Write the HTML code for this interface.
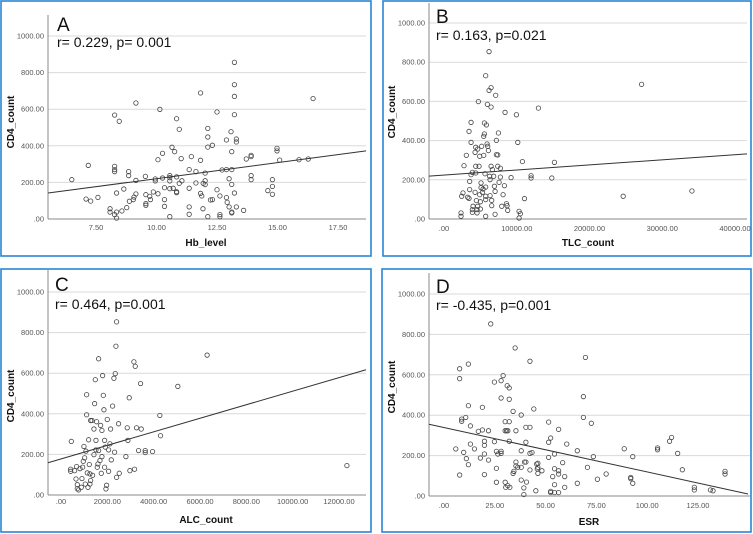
<!DOCTYPE html>
<html><head><meta charset="utf-8"><style>
html,body{margin:0;padding:0;background:#fff;}
svg{display:block;font-family:"Liberation Sans",sans-serif;}
.tk{font-size:7.5px;fill:#555;}
.gr{stroke:#d9d9d9;stroke-width:1;}
.ax{stroke:#888;stroke-width:1;}
.pt{fill:none;stroke:#444;stroke-width:0.8;}
.fit{stroke:#333;stroke-width:1;fill:none;}
.ttl{font-size:10px;font-weight:bold;fill:#111;}
.lab{font-size:19px;fill:#111;}
.st{font-size:14px;fill:#111;}
</style></head><body>
<svg id="chart" width="753" height="534" viewBox="0 0 753 534"></svg>
<script>
const yTicks=[0,200,400,600,800,1000];
const yTickLabels=[".00","200.00","400.00","600.00","800.00","1000.00"];

const hbTicks=[7.5,10,12.5,15,17.5];
const hbTickLabels=["7.50","10.00","12.50","15.00","17.50"];
const hbX=[6.5,7.18,7.09,7.28,7.58,8.08,8.08,8.27,8.46,8.27,8.27,8.27,8.35,8.27,8.35,8.35,8.57,8.65,8.77,8.85,8.85,8.88,9.04,9.07,9.15,9.15,9.15,9.54,9.56,9.56,9.56,9.72,9.75,9.87,9.95,9.95,10.06,10.06,10.14,10.25,10.25,10.33,10.33,10.33,10.55,10.55,10.55,10.55,10.55,10.64,10.75,10.69,10.83,10.83,10.83,10.83,10.94,10.94,11.02,11.05,11.35,11.35,11.35,11.35,11.44,11.63,11.63,11.82,11.82,11.82,11.87,11.92,11.93,12.01,12.01,12.01,12.12,12.12,12.12,12.12,12.23,12.31,12.31,12.5,12.5,12.62,12.62,12.62,12.71,12.89,12.89,12.89,12.92,13.0,13.0,13.08,13.11,13.11,13.11,13.11,13.11,13.22,13.22,13.22,13.22,13.22,13.3,13.3,13.3,13.6,13.71,13.91,13.91,13.91,13.91,14.6,14.79,14.79,14.79,14.98,14.98,15.09,15.89,16.27,16.47];
const hbY=[215,293,109,98,118,56,38,568,534,288,270,259,142,24,38,5,44,164,62,259,237,97,106,120,634,211,137,233,133,84,75,124,106,148,219,208,324,138,599,359,224,171,106,69,237,226,208,166,13,392,368,168,548,230,149,144,490,195,330,209,168,270,66,26,341,259,197,689,321,140,126,56,195,251,209,188,495,448,393,13,104,403,106,585,160,126,24,13,268,432,270,117,91,220,66,477,368,270,189,38,33,856,734,670,570,142,437,421,66,47,328,348,341,237,215,155,215,178,135,386,372,322,324,328,658];
const hbLineX=[5.52,18.66];
const hbLineY=[142,372];

const tlcTicks=[0,10000,20000,30000,40000];
const tlcTickLabels=[".00","10000.00","20000.00","30000.00","40000.00"];
const tlcX=[2340,2340,2430,2610,2750,3070,3260,3440,3440,3530,3530,3720,3720,3720,3900,3900,3900,3990,4270,4270,4360,4360,4360,4450,4540,4540,4630,4630,4720,4820,4910,4910,5000,5000,5090,5090,5180,5280,5370,5460,5460,5550,5550,5640,5730,5730,5730,5730,5730,5830,5920,5960,6010,6100,6190,6190,6280,6330,6330,6470,6470,6470,6560,6560,6650,6830,6930,7020,7020,7110,7200,7200,7390,7390,7480,7570,7750,7750,7940,8120,8300,8390,8580,8670,8760,9220,9950,10140,10320,10320,10500,10780,11060,11970,11970,12980,14820,15180,24630,27160,34080];
const tlcY=[31,14,116,133,272,325,111,105,447,150,192,493,391,226,238,48,34,65,136,340,366,269,235,94,48,31,357,65,599,269,124,320,51,88,184,160,371,136,153,325,422,490,434,231,163,116,99,14,731,480,383,585,371,349,854,656,218,201,119,670,571,269,95,68,252,218,167,141,24,631,401,328,327,269,439,187,259,214,65,124,170,544,78,68,44,211,532,391,39,5,27,293,104,221,209,566,209,289,116,687,143];
const tlcLineX=[-2062,41650];
const tlcLineY=[219,332];

const alcTicks=[0,2000,4000,6000,8000,10000,12000];
const alcTickLabels=[".00","2000.00","4000.00","6000.00","8000.00","10000.00","12000.00"];
const alcX=[445,417,417,589,647,675,704,704,761,819,876,905,934,991,1020,1049,1078,1106,1106,1135,1164,1193,1221,1250,1279,1279,1336,1365,1422,1422,1451,1480,1509,1509,1537,1566,1624,1624,1681,1710,1739,1767,1767,1796,1825,1853,1882,1882,1911,1940,1968,1997,2055,2055,2112,2141,2170,2227,2284,2313,2342,2371,2399,2399,2485,2514,2802,2859,2888,2945,2974,3147,3175,3204,3261,3348,3434,3463,3635,3635,3951,4267,4296,5043,6307,12342,962,1250,1595];
const alcY=[264,127,117,120,79,140,51,31,25,130,38,81,137,239,183,54,216,494,395,109,38,272,150,104,367,71,367,97,325,199,450,568,269,222,361,137,671,219,170,343,107,318,189,588,491,420,269,137,236,30,48,372,117,222,252,325,173,438,575,211,598,733,853,87,351,107,189,331,269,479,120,656,127,634,331,219,549,325,219,209,214,392,292,535,689,145,166,54,153];
const alcLineX=[-561,13165];
const alcLineY=[159,617];

const esrTicks=[0,25,50,75,100,125];
const esrTickLabels=[".00","25.00","50.00","75.00","100.00","125.00"];
const esrX=[5.8,7.7,7.7,7.7,8.7,8.7,9.7,10.7,11.0,12.0,12.0,12.0,13.0,13.0,15.0,16.9,17.9,18.9,18.9,19.9,19.9,19.9,19.9,21.9,21.9,24.8,24.8,23.0,25.8,25.8,25.8,26.5,28.1,28.1,28.1,28.1,29.1,30.1,30.1,30.1,30.4,30.8,31.1,31.4,31.4,32.1,32.1,32.1,32.1,32.4,34.0,34.0,34.4,35.0,35.4,35.4,35.4,36.3,38.0,38.0,38.0,38.0,39.3,39.3,39.6,40.3,40.3,40.3,40.6,42.3,42.3,42.3,42.3,43.3,44.2,45.2,45.6,45.9,46.2,46.2,46.2,48.2,51.5,51.5,51.5,52.5,52.5,52.5,53.5,54.4,54.4,54.4,54.4,56.4,56.4,56.4,56.4,58.4,59.4,59.4,60.4,65.6,65.6,68.6,68.6,69.6,70.6,72.5,73.5,75.5,79.8,88.7,91.9,91.9,92.9,92.9,105.1,105.1,111.0,112.0,115.0,117.3,123.2,123.2,131.1,132.4,138.3,138.3];
const esrY=[233,630,581,104,370,381,216,389,185,653,447,155,347,257,233,320,188,439,327,271,251,208,106,323,178,564,269,852,137,68,221,208,571,485,221,211,596,368,323,68,43,323,546,323,51,535,479,368,271,43,419,112,122,733,323,168,149,142,401,224,142,79,40,7,168,340,266,168,69,667,340,211,129,215,431,26,158,134,142,162,112,125,366,266,191,287,23,17,96,208,135,56,17,330,125,109,17,165,96,43,257,224,63,492,389,686,142,360,195,83,109,234,92,86,195,63,238,229,271,290,211,130,43,30,30,26,122,109];
const esrLineX=[-7.4,149.6];
const esrLineY=[355,10];

const NS="http://www.w3.org/2000/svg";
const svg=document.getElementById('chart');
function mk(tag,attrs,parent){const e=document.createElementNS(NS,tag);for(const k in attrs)e.setAttribute(k,attrs[k]);(parent||svg).appendChild(e);return e;}

function panel(p,xs,ys,lx,ly,xt,xtl){
  const g=mk('g',{});
  
  
  const sx=v=>p.x0px+(v-p.x0v)*(p.x1px-p.x0px)/(p.x1v-p.x0v);
  const sy=v=>p.y0px+(p.y1px-p.y0px)*v/1000;
  const box=mk('rect',{x:p.bx,y:p.by,width:p.bw,height:p.bh,fill:'#fff',stroke:'#2a86d6','stroke-width':1.6},g);
  
  
  yTicks.forEach((t,i)=>{
    if(t>0){const l=mk('line',{x1:p.left,x2:p.right,y1:sy(t),y2:sy(t),class:'gr'},g);
      
      }
    const tx=mk('text',{x:p.left-4,y:sy(t)+2.5,'text-anchor':'end',class:'tk'},g);
    tx.textContent=yTickLabels[i];
    
    
  });
  xt.forEach((t,i)=>{
    const tx=mk('text',{x:sx(t),y:p.xtY,'text-anchor':'middle',class:'tk'},g);
    tx.textContent=xtl[i];
    
    
  });
  const ya=mk('line',{x1:p.left,x2:p.left,y1:p.top,y2:sy(0),class:'ax'},g);
  
  
  const xa=mk('line',{x1:p.left,x2:p.right,y1:sy(0),y2:sy(0),class:'ax'},g);
  
  
  xs.forEach((v,i)=>{
    const c=mk('circle',{cx:sx(v),cy:sy(ys[i]),r:2.2,class:'pt'},g);
    
    
  });
  const fl=mk('line',{x1:sx(lx[0]),y1:sy(ly[0]),x2:sx(lx[1]),y2:sy(ly[1]),class:'fit'},g);
  
  
  const yt=mk('text',{x:p.ytX,y:p.ytY,'text-anchor':'middle',class:'ttl',transform:`rotate(-90 ${p.ytX} ${p.ytY})`},g);
  yt.textContent='CD4_count';
  
  
  const xtt=mk('text',{x:p.xttX,y:p.xttY,'text-anchor':'middle',class:'ttl'},g);
  xtt.textContent=p.xtitle;
  
  
  const lb=mk('text',{x:p.labX,y:p.labY,class:'lab'},g);
  lb.textContent=p.id;
  
  
  const st=mk('text',{x:p.labX,y:p.stY,class:'st'},g);
  st.textContent=p.stat;
  
  
}

panel({id:'A',bx:1,by:1,bw:370,bh:255,left:48,right:366,top:15,x0v:7.5,x0px:96,x1v:17.5,x1px:338,y0px:219,y1px:36,xtY:230,ytX:14,ytY:122,xttX:206,xttY:246,xtitle:'Hb_level',labX:57,labY:31,stY:47,stat:'r= 0.229,  p= 0.001'},hbX,hbY,hbLineX,hbLineY,hbTicks,hbTickLabels);
panel({id:'B',bx:383,by:1,bw:368,bh:255,left:429,right:747,top:3,x0v:0,x0px:444,x1v:40000,x1px:735,y0px:219,y1px:23,xtY:231,ytX:395,ytY:112,xttX:588,xttY:246,xtitle:'TLC_count',labX:436,labY:23,stY:40,stat:'r= 0.163, p=0.021'},tlcX,tlcY,tlcLineX,tlcLineY,tlcTicks,tlcTickLabels);
panel({id:'C',bx:1,by:269,bw:370,bh:263,left:48,right:366,top:270,x0v:0,x0px:61,x1v:12000,x1px:339,y0px:495,y1px:292,xtY:504,ytX:14,ytY:396,xttX:206,xttY:523,xtitle:'ALC_count',labX:55,labY:291,stY:309,stat:'r= 0.464, p=0.001'},alcX,alcY,alcLineX,alcLineY,alcTicks,alcTickLabels);
panel({id:'D',bx:382,by:269,bw:369,bh:263,left:429,right:750,top:273,x0v:0,x0px:444,x1v:125,x1px:698,y0px:496,y1px:294,xtY:508,ytX:395,ytY:387,xttX:589,xttY:525,xtitle:'ESR',labX:436,labY:293,stY:310,stat:'r= -0.435, p=0.001'},esrX,esrY,esrLineX,esrLineY,esrTicks,esrTickLabels);
</script>
</body></html>
